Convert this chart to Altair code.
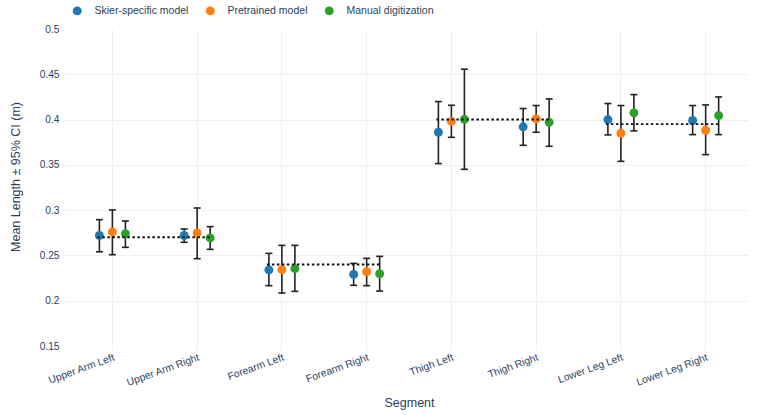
import altair as alt
import pandas as pd

segments = ["Upper Arm Left", "Upper Arm Right", "Forearm Left", "Forearm Right",
            "Thigh Left", "Thigh Right", "Lower Leg Left", "Lower Leg Right"]
series_names = ["Skier-specific model", "Pretrained model", "Manual digitization"]
series_colors = ["#1f77b4", "#ff7f0e", "#2ca02c"]

skier_mean = [0.272, 0.272, 0.234, 0.229, 0.386, 0.392, 0.400, 0.399]
skier_lo = [0.254, 0.2645, 0.2166, 0.217, 0.3514, 0.3716, 0.3831, 0.3834]
skier_hi = [0.2895, 0.2792, 0.2523, 0.2412, 0.4199, 0.4122, 0.4177, 0.4155]

pre_mean = [0.276, 0.2748, 0.2343, 0.232, 0.398, 0.4007, 0.3849, 0.3882]
pre_lo = [0.2508, 0.2464, 0.2085, 0.2166, 0.3804, 0.386, 0.3539, 0.3613]
pre_hi = [0.3002, 0.3024, 0.2611, 0.2468, 0.4158, 0.4155, 0.4155, 0.4162]

man_mean = [0.274, 0.2693, 0.2354, 0.2298, 0.4003, 0.397, 0.4074, 0.4044]
man_lo = [0.2589, 0.2567, 0.2103, 0.2107, 0.3451, 0.3705, 0.3875, 0.3834]
man_hi = [0.288, 0.2818, 0.2611, 0.249, 0.4556, 0.4228, 0.4276, 0.425]

ref_start = ["Upper Arm Left", "Forearm Left", "Thigh Left", "Lower Leg Left"]
ref_end = ["Upper Arm Right", "Forearm Right", "Thigh Right", "Lower Leg Right"]
ref_value = [0.27, 0.24, 0.40, 0.395]

y_ticks = [0.15, 0.2, 0.25, 0.3, 0.35, 0.4, 0.45, 0.5]

rows = []
for name, means, los, his in zip(series_names,
                                 [skier_mean, pre_mean, man_mean],
                                 [skier_lo, pre_lo, man_lo],
                                 [skier_hi, pre_hi, man_hi]):
    for seg, m, lo, hi in zip(segments, means, los, his):
        rows.append({"segment": seg, "series": name, "mean": m, "lo": lo, "hi": hi})
df = pd.DataFrame(rows)
ref_df = pd.DataFrame({"start": ref_start, "end": ref_end, "value": ref_value})

FONT = "Liberation Sans"
TEXT = "#2a3f5f"
GRID = "#EBF0F8"
edge_cond = {"condition": {"test": "datum.value < 0.16 || datum.value > 0.49", "value": 0}, "value": 1}

x_scale = alt.Scale(domain=segments, paddingInner=0, paddingOuter=0)
x_axis = alt.Axis(title="Segment", labelAngle=-20, labelAlign="right", labelBaseline="top",
                  domain=False, tickSize=5, tickColor=GRID, gridColor=GRID, grid=True,
                  labelPadding=1, labelFont=FONT, labelFontSize=10.3, labelColor=TEXT,
                  titleFont=FONT, titleFontSize=12.5, titleColor=TEXT, titleFontWeight="normal",
                  titlePadding=9)
y_scale = alt.Scale(domain=[0.15, 0.5], nice=False, zero=False)
y_axis = alt.Axis(title="Mean Length ± 95% CI (m)", values=y_ticks, format="~g",
                  domain=False, tickSize=8, tickColor=GRID, gridColor=GRID, grid=True,
                  gridOpacity=edge_cond, tickOpacity=edge_cond,
                  labelPadding=3, labelFont=FONT, labelFontSize=10.2, labelColor=TEXT,
                  titleFont=FONT, titleFontSize=12.5, titleColor=TEXT, titleFontWeight="normal",
                  titlePadding=17, titleY=147.5)
x_off = alt.XOffset("series:N", scale=alt.Scale(type="point", domain=series_names,
                                                range=[29.4, 55.4], padding=0))

base = alt.Chart(df)

bars = base.mark_rule(strokeWidth=1.6, color="#222").encode(
    x=alt.X("segment:N", scale=x_scale, axis=x_axis, sort=segments),
    xOffset=x_off,
    y=alt.Y("lo:Q", scale=y_scale, axis=y_axis),
    y2="hi:Q",
)
caps_lo = base.mark_tick(size=7, thickness=1.6, color="#222", opacity=1).encode(
    x=alt.X("segment:N", scale=x_scale, axis=x_axis, sort=segments),
    xOffset=x_off,
    y=alt.Y("lo:Q", scale=y_scale, axis=y_axis),
)
caps_hi = base.mark_tick(size=7, thickness=1.6, color="#222", opacity=1).encode(
    x=alt.X("segment:N", scale=x_scale, axis=x_axis, sort=segments),
    xOffset=x_off,
    y=alt.Y("hi:Q", scale=y_scale, axis=y_axis),
)
points = base.mark_circle(size=80, opacity=1).encode(
    x=alt.X("segment:N", scale=x_scale, axis=x_axis, sort=segments),
    xOffset=x_off,
    y=alt.Y("mean:Q", scale=y_scale, axis=y_axis),
    color=alt.Color("series:N", scale=alt.Scale(domain=series_names, range=series_colors),
                    legend=alt.Legend(orient="none", legendX=2, legendY=-23.5,
                                      direction="horizontal", title=None,
                                      symbolType="circle", symbolSize=80, symbolStrokeWidth=0,
                                      labelFont=FONT, labelFontSize=10.5, labelColor=TEXT,
                                      labelOffset=12, columnPadding=16, padding=0)),
)
refs = alt.Chart(ref_df).mark_rule(strokeWidth=1.9, color="#111", strokeDash=[2.5, 2.5]).encode(
    x=alt.X("start:N", scale=x_scale, axis=x_axis, bandPosition=0.323),
    x2=alt.X2("end:N", bandPosition=0.677),
    y=alt.Y("value:Q", scale=y_scale, axis=y_axis),
)

chart = alt.layer(bars, caps_lo, caps_hi, points, refs).properties(
    width=678, height=317,
    autosize=alt.AutoSizeParams(type="none"),
    padding={"left": 70, "top": 29, "right": 18, "bottom": 69},
    background="white",
).configure_view(stroke=None)

chart.save("out.html", embed_options={"renderer": "svg", "actions": False})
